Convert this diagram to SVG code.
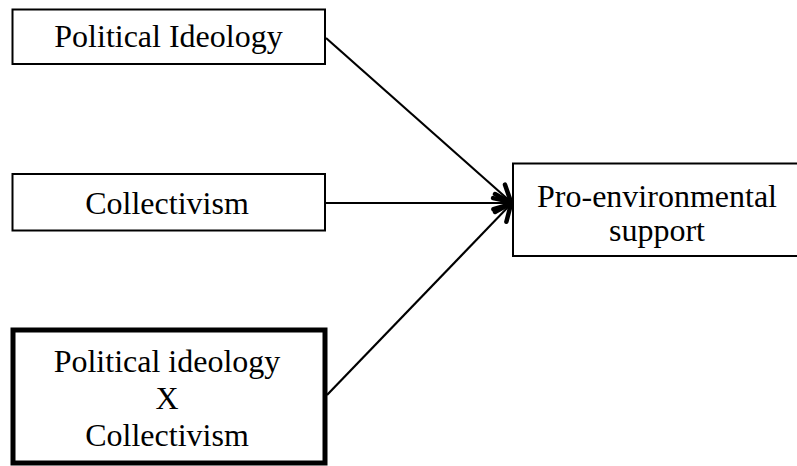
<svg xmlns="http://www.w3.org/2000/svg" width="797" height="466" viewBox="0 0 797 466">
<defs>
<style>
.box{fill:#fff;stroke:#000;stroke-width:2}
.thick{stroke-width:5}
.lbl{font-family:"Liberation Serif","Times New Roman",serif;font-size:32px;fill:#000;text-anchor:middle}
.conn{stroke:#000;stroke-width:2.2;fill:none}
</style>
<marker id="arr" markerUnits="userSpaceOnUse" viewBox="-22 -14 26 28" refX="0" refY="0" markerWidth="26" markerHeight="28" orient="auto">
<path d="M-16,-9 L0,0 L-16,9" fill="none" stroke="#000" stroke-width="4.5" stroke-linecap="round" stroke-linejoin="round"/>
</marker>
</defs>
<rect width="797" height="466" fill="#fff"/>
<g id="connectors">
<line class="conn" x1="326" y1="38" x2="511" y2="202" marker-end="url(#arr)"/>
<line class="conn" x1="326" y1="203" x2="511" y2="203" marker-end="url(#arr)"/>
<line class="conn" x1="327" y1="395" x2="511" y2="204" marker-end="url(#arr)"/>
</g>
<g id="n1">
<rect class="box" x="12.5" y="9.5" width="312.5" height="54.5"/>
<text class="lbl" x="168.5" y="47">Political Ideology</text>
</g>
<g id="n2">
<rect class="box" x="12.5" y="174" width="312.5" height="56.5"/>
<text class="lbl" x="167" y="213.5">Collectivism</text>
</g>
<g id="n3">
<rect class="box thick" x="13" y="330" width="312" height="133"/>
<text class="lbl" x="167" y="372">Political ideology</text>
<text class="lbl" x="167" y="408.5">X</text>
<text class="lbl" x="167" y="445.5">Collectivism</text>
</g>
<g id="n4">
<rect class="box" x="513" y="163.5" width="300" height="92.5"/>
<text class="lbl" x="657" y="207">Pro-environmental</text>
<text class="lbl" x="657" y="241">support</text>
</g>
</svg>
